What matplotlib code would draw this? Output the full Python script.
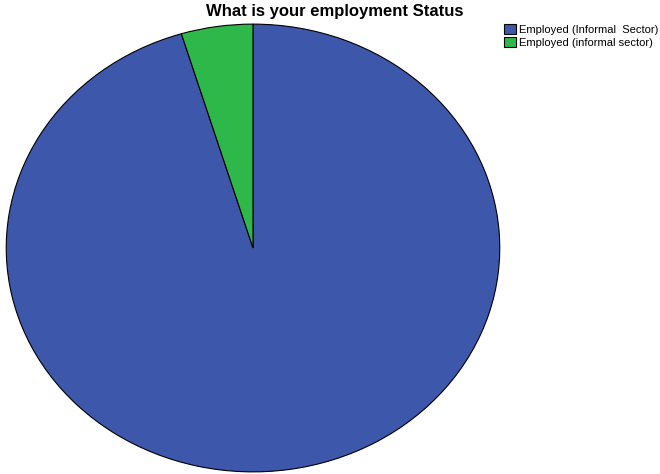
import matplotlib
matplotlib.use("Agg")
import matplotlib.pyplot as plt

# employment status counts
labels = ["Employed (Informal  Sector)", "Employed (informal sector)"]
counts = [61, 3]
colors = ["#3D57AA", "#2EB84A"]

fig = plt.figure(figsize=(6.6, 4.74), dpi=100)
ax = fig.add_axes([5 / 660, 1 / 474, 496 / 660, 450 / 474])

wedges, _ = ax.pie(
    counts,
    colors=colors,
    startangle=90,
    counterclock=False,
    wedgeprops=dict(edgecolor="black", linewidth=0.8),
)
ax.set_aspect("auto")
ax.set_xlim(-1.005, 1.005)
ax.set_ylim(-1.005, 1.005)
ax.axis("off")

fig.text(0.507, 0.975, "What is your employment Status",
         ha="center", va="center", fontsize=12, fontweight="bold",
         family="Liberation Sans")

fig.legend(
    wedges, labels,
    loc="upper left",
    bbox_to_anchor=(504 / 660, 1 - 24 / 474),
    frameon=False,
    prop={"family": "Liberation Sans", "size": 8.0},
    handlelength=1.05, handleheight=1.05,
    handletextpad=0.3, labelspacing=0.2,
    borderaxespad=0, borderpad=0,
)

fig.savefig("out.png", dpi=100)
